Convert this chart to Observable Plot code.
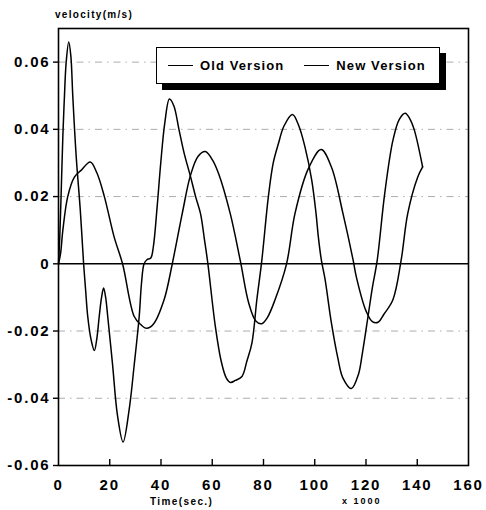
<!DOCTYPE html>
<html>
<head>
<meta charset="utf-8">
<script src="https://cdn.jsdelivr.net/npm/d3@7"></script>
<script src="https://cdn.jsdelivr.net/npm/@observablehq/plot@0.6"></script>
<style>
  body { margin: 0; background: #fff; }
  #wrap { position: relative; width: 486px; height: 510px; font-family: "Liberation Sans", Arial, sans-serif; color: #000; }
  #wrap svg { position: absolute; left: 0; top: 0; }
  .lbl { position: absolute; font-weight: bold; white-space: nowrap; }
  #legend { position: absolute; left: 156px; top: 47px; width: 282px; height: 35px; border: 1.5px solid #000;
            background: #fff; box-shadow: 6px 6px 0 #000; display: flex; align-items: center;
            font-weight: bold; font-size: 13px; letter-spacing: 1.1px; }
  #legend .item { display: flex; align-items: center; }
  #legend .sw { display: inline-block; width: 25px; border-top: 1.5px solid #000; margin-right: 7px; }
</style>
</head>
<body>
<div id="wrap"></div>
<script>
// Time (x 1000 s) and velocity (m/s) samples for each run
const seriesNames = ["Old Version", "New Version"];

const oldTime = [0, 0.5, 1.0, 1.7, 2.3, 3.0, 4.0, 4.8, 5.6, 6.9, 8.5, 9.8, 10.6, 11.4, 12.7, 14.0, 15.0, 15.9,
  16.8, 17.6, 18.4, 19.2, 21.1, 23.0, 25.2, 27.6, 29.5, 31.5, 32.4, 33.4, 34.5, 36.0, 37.0, 38.5, 39.9, 41.5,
  43.3, 45.0, 47.0, 49.0, 51.5, 53.5, 55.4, 57.0, 58.3, 61.2, 63.5, 65.5, 67.1, 69.0, 71.6, 73.5, 75.5, 77.4,
  79.3, 81.9, 83.8, 85.8, 88.0, 91.3, 93.8, 96.2, 98.8, 100.5, 101.4, 102.6, 104.0, 106.5, 109.0, 111.0, 114.3,
  117.0, 118.5, 120.8, 122.5, 124.4, 127.3, 130.5, 133.0, 135.3, 137.2, 138.9, 142.1];
const oldVel = [0, 0.008, 0.020, 0.038, 0.0495, 0.060, 0.066, 0.062, 0.0495, 0.032, 0.016, 0, -0.008, -0.0156,
  -0.0225, -0.0258, -0.022, -0.0156, -0.010, -0.0072, -0.010, -0.0156, -0.030, -0.045, -0.053, -0.0432, -0.0304,
  -0.0156, -0.0057, 0, 0.0012, 0.0017, 0.005, 0.017, 0.030, 0.042, 0.049, 0.047, 0.040, 0.033, 0.026, 0.020,
  0.015, 0.007, 0, -0.0186, -0.029, -0.034, -0.0353, -0.0347, -0.0335, -0.029, -0.0235, -0.0107, 0.0007, 0.020,
  0.030, 0.0357, 0.041, 0.0444, 0.041, 0.0347, 0.025, 0.015, 0.008, 0.001, -0.0045, -0.0176, -0.028, -0.034,
  -0.0371, -0.033, -0.027, -0.0156, -0.007, 0.0012, 0.0209, 0.0367, 0.043, 0.0448, 0.043, 0.0397, 0.0288];

const newTime = [0, 0.8, 1.7, 3.6, 6.2, 8.8, 12.4, 15.0, 17.9, 21.7, 25.0, 29.5, 32.0, 34.4, 37.0, 41.2, 44.4,
  48.3, 51.5, 54.5, 57.3, 60.0, 62.5, 67.0, 71.0, 74.2, 77.0, 79.3, 81.5, 84.5, 89.0, 92.3, 97.5, 102.5, 106.5,
  111.0, 115.0, 116.2, 120.0, 122.5, 124.7, 127.0, 130.5, 133.7, 136.3, 140.2, 142.1];
const newVel = [0, 0.003, 0.010, 0.020, 0.0258, 0.0278, 0.0303, 0.027, 0.020, 0.008, 0, -0.0156, -0.018, -0.0192,
  -0.018, -0.0107, 0, 0.015, 0.0263, 0.032, 0.0334, 0.031, 0.0268, 0.015, 0.0007, -0.0116, -0.017, -0.0178,
  -0.016, -0.0107, 0, 0.015, 0.0283, 0.034, 0.0288, 0.015, 0.001, -0.0038, -0.014, -0.0172, -0.0174, -0.015,
  -0.0107, 0.001, 0.015, 0.0258, 0.0288];

const xTicks = [0, 20, 40, 60, 80, 100, 120, 140, 160];
const yTicks = [-0.06, -0.04, -0.02, 0, 0.02, 0.04, 0.06];
const yDomain = [-0.06, 0.07];

const oldRows = oldTime.map((t, i) => ({t, v: oldVel[i], run: seriesNames[0]}));
const newRows = newTime.map((t, i) => ({t, v: newVel[i], run: seriesNames[1]}));

const fmtY = d => d === 0 ? "0" : (d < 0 ? "-" : "") + Math.abs(d).toFixed(2);

const chart = Plot.plot({
  width: 486,
  height: 510,
  marginLeft: 58,
  marginRight: 18,
  marginTop: 28,
  marginBottom: 45,
  x: {domain: [0, 160]},
  y: {domain: yDomain},
  style: {fontFamily: "'Liberation Sans', Arial, sans-serif", fontSize: "15px", fontWeight: "bold", background: "white", letterSpacing: "1.8px"},
  marks: [
    Plot.gridY(yTicks.filter(d => d !== 0 && d !== yDomain[0]), {stroke: "#666", strokeOpacity: 0.6, strokeWidth: 0.9, strokeDasharray: "7,5,1.5,5"}),
    Plot.ruleY([0], {stroke: "#000", strokeWidth: 1.5}),
    Plot.axisY(yTicks, {tickSize: 5, tickPadding: 3, tickFormat: fmtY, label: null, strokeWidth: 1.4}),
    // short inward ticks rising from the time axis
    Plot.ruleX(xTicks.slice(1, -1), {x: d => d, y1: yDomain[0], y2: yDomain[0] + 0.0018, stroke: "#000", strokeWidth: 1.4}),
    Plot.axisX(xTicks, {anchor: "bottom", tickSize: 0, tickPadding: 14, label: null}),
    Plot.frame({stroke: "#000", strokeWidth: 1.6}),
    Plot.line(oldRows, {x: "t", y: "v", curve: "catmull-rom", stroke: "#000", strokeWidth: 1.5}),
    Plot.line(newRows, {x: "t", y: "v", curve: "catmull-rom", stroke: "#000", strokeWidth: 1.5})
  ]
});

const wrap = document.getElementById("wrap");
wrap.appendChild(chart);

function addLabel(text, left, top, size, spacing) {
  const el = document.createElement("div");
  el.className = "lbl";
  el.textContent = text;
  el.style.left = left + "px";
  el.style.top = top + "px";
  el.style.fontSize = size + "px";
  el.style.letterSpacing = spacing + "px";
  wrap.appendChild(el);
}
addLabel("velocity(m/s)", 55, 9, 10, 1.3);
addLabel("Time(sec.)", 150, 496, 10, 1.4);
addLabel("x 1000", 342, 496, 9, 2);

// legend box with drop shadow
const legend = document.createElement("div");
legend.id = "legend";
seriesNames.forEach((name, i) => {
  const item = document.createElement("div");
  item.className = "item";
  item.style.marginLeft = i === 0 ? "11px" : "20px";
  const sw = document.createElement("span");
  sw.className = "sw";
  const tx = document.createElement("span");
  tx.textContent = name;
  item.appendChild(sw);
  item.appendChild(tx);
  legend.appendChild(item);
});
wrap.appendChild(legend);
</script>
</body>
</html>
